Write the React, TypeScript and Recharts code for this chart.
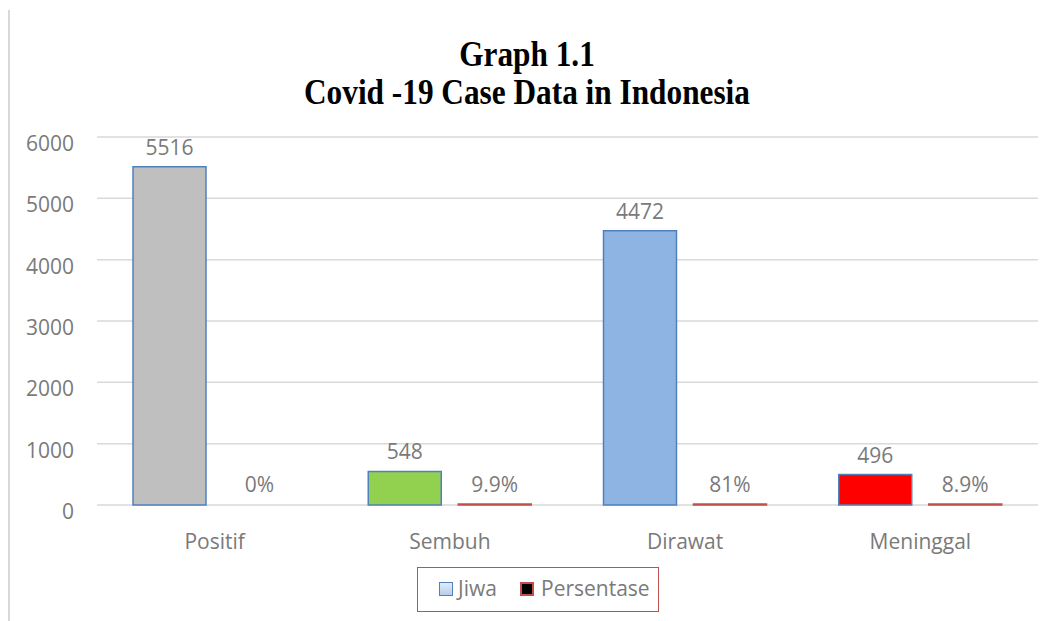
import { Bar, BarChart, CartesianGrid, Cell, LabelList, XAxis, YAxis } from 'recharts';

const categories = ['Positif', 'Sembuh', 'Dirawat', 'Meninggal'];
const jiwa = [5516, 548, 4472, 496];
// shares are stored as fractions, so on the count axis they collapse to a thin line
const persentase = [0, 0.099, 0.81, 0.089];
const jiwaColors = ['#BFBFBF', '#92D050', '#8EB4E3', '#FF0000'];
const yTicks = [0, 1000, 2000, 3000, 4000, 5000, 6000];

const data = categories.map((name, i) => ({ name, jiwa: jiwa[i], persentase: persentase[i] }));

const TEXT = '#7A7A7A';
const FONT = '"Open Sans", sans-serif';
const FS = 21;

const pct = (v: number) => `${+(v * 100).toFixed(1)}%`;

function YTick({ x, y, payload }: any) {
  return (
    <text x={x} y={y} dy={14} textAnchor="end" fill={TEXT} fontSize={FS} fontFamily={FONT}>
      {payload.value}
    </text>
  );
}

function XTick({ x, y, payload }: any) {
  return (
    <text x={x} y={y} dy={44} textAnchor="middle" fill={TEXT} fontSize={FS} fontFamily={FONT}>
      {payload.value}
    </text>
  );
}

export default function App() {
  return (
    <div style={{ position: 'absolute', left: 0, top: 0, width: 1060, height: 621, background: '#fff' }}>
      <div style={{ position: 'absolute', left: 8, top: 10, width: 1.5, height: 611, background: '#D9D9D9' }} />
      <svg width={1060} height={120} style={{ position: 'absolute', left: 0, top: 0 }}>
        <g transform="scale(1,1.12)" fontFamily='"Liberation Serif", "Times New Roman", serif' fontWeight="bold" fontSize={31.3} fill="#000">
          <text x={527} y={66 / 1.12} textAnchor="middle">Graph 1.1</text>
          <text x={527} y={104 / 1.12} textAnchor="middle">Covid -19 Case Data in Indonesia</text>
        </g>
      </svg>
      <div style={{ position: 'absolute', left: 0, top: 0 }}>
        <BarChart
          width={1060}
          height={621}
          data={data}
          margin={{ top: 137, right: 22, bottom: 56, left: 17 }}
          barGap={17}
          barSize={73}
        >
          <CartesianGrid vertical={false} stroke="#D9D9D9" strokeWidth={1.5} />
          <XAxis dataKey="name" height={60} tickLine={false} axisLine={false} tickSize={0} tickMargin={0} tick={<XTick />} />
          <YAxis
            width={80}
            domain={[0, 6000]}
            ticks={yTicks}
            tickLine={false}
            axisLine={false}
            tickSize={0}
            tickMargin={23}
            tick={<YTick />}
          />
          <Bar dataKey="jiwa" stroke="#4F81BD" strokeWidth={1.5} isAnimationActive={false}>
            {data.map((d, i) => (
              <Cell key={d.name} fill={jiwaColors[i]} />
            ))}
            <LabelList dataKey="jiwa" position="top" offset={12} fill={TEXT} fontSize={FS} fontFamily={FONT} />
          </Bar>
          <Bar dataKey="persentase" minPointSize={1} isAnimationActive={false}>
            {data.map((d) => (
              <Cell
                key={d.name}
                fill={d.persentase === 0 ? 'none' : '#000000'}
                stroke={d.persentase === 0 ? 'none' : '#C0504D'}
                strokeWidth={1.5}
              />
            ))}
            <LabelList
              dataKey="persentase"
              position="top"
              offset={12}
              formatter={(v: any) => pct(Number(v))}
              fill={TEXT}
              fontSize={FS}
              fontFamily={FONT}
            />
          </Bar>
        </BarChart>
      </div>
      <div
        style={{
          position: 'absolute',
          left: 417,
          top: 567,
          width: 242,
          height: 45,
          boxSizing: 'border-box',
          border: '1.5px solid #C0504D',
          fontFamily: FONT,
          fontSize: FS,
          color: TEXT,
        }}
      >
        <div
          style={{
            position: 'absolute',
            left: 21,
            top: 14,
            width: 14,
            height: 14,
            boxSizing: 'border-box',
            border: '1.5px solid #4F81BD',
            background: 'linear-gradient(#E1EBF8, #B7CDEC)',
          }}
        />
        <span style={{ position: 'absolute', left: 40, top: 6, lineHeight: '28px' }}>Jiwa</span>
        <div
          style={{
            position: 'absolute',
            left: 102,
            top: 14,
            width: 14,
            height: 14,
            boxSizing: 'border-box',
            border: '2px solid #C0504D',
            background: '#000',
          }}
        />
        <span style={{ position: 'absolute', left: 123, top: 6, lineHeight: '28px' }}>Persentase</span>
      </div>
    </div>
  );
}
